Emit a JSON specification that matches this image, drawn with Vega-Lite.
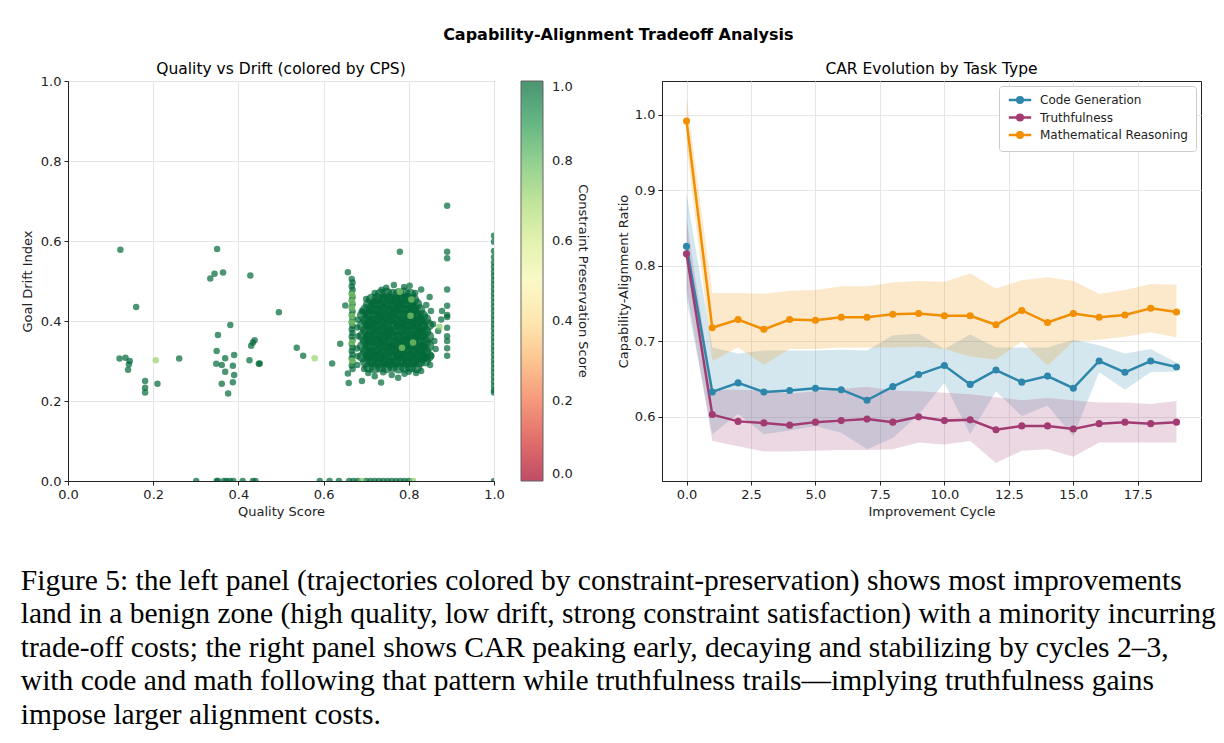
{
  "$schema": "https://vega.github.io/schema/vega-lite/v6.json",
  "background": "white",
  "padding": {"left": 20, "top": 27, "right": 5, "bottom": 5},
  "config": {
    "font": "DejaVu Sans",
    "view": {"stroke": "#222", "strokeWidth": 1},
    "axis": {"labelFont": "DejaVu Sans", "labelFontSize": 13, "titleFont": "DejaVu Sans", "titleFontSize": 13, "titleFontWeight": "normal", "labelColor": "#222", "titleColor": "#222", "domainColor": "#222", "tickColor": "#222", "tickSize": 4, "gridColor": "#e6e6e6", "labelPadding": 3, "labelFlush": false, "labelOverlap": false},
    "legend": {"labelFont": "DejaVu Sans", "titleFont": "DejaVu Sans"},
    "title": {"font": "DejaVu Sans", "color": "#000"},
    "concat": {"spacing": 26}
  },
  "datasets": {
    "pts": [
      {"q":0.123,"d":0.578,"c":1},{"q":0.350,"d":0.580,"c":1},{"q":0.334,"d":0.506,"c":1},{"q":0.344,"d":0.518,"c":1},{"q":0.364,"d":0.521,"c":1},{"q":0.428,"d":0.514,"c":1},{"q":0.160,"d":0.435,"c":1},{"q":0.495,"d":0.422,"c":1},{"q":0.381,"d":0.390,"c":1},{"q":0.352,"d":0.365,"c":1},{"q":0.438,"d":0.352,"c":1},{"q":0.434,"d":0.346,"c":1},{"q":0.430,"d":0.338,"c":1},{"q":0.121,"d":0.306,"c":1},{"q":0.135,"d":0.308,"c":1},{"q":0.145,"d":0.300,"c":1},{"q":0.143,"d":0.292,"c":1},{"q":0.141,"d":0.278,"c":1},{"q":0.261,"d":0.306,"c":1},{"q":0.181,"d":0.250,"c":1},{"q":0.181,"d":0.233,"c":1},{"q":0.181,"d":0.221,"c":1},{"q":0.210,"d":0.243,"c":1},{"q":0.349,"d":0.325,"c":1},{"q":0.348,"d":0.293,"c":1},{"q":0.361,"d":0.290,"c":1},{"q":0.369,"d":0.307,"c":1},{"q":0.390,"d":0.315,"c":1},{"q":0.387,"d":0.288,"c":1},{"q":0.369,"d":0.273,"c":1},{"q":0.390,"d":0.265,"c":1},{"q":0.361,"d":0.243,"c":1},{"q":0.387,"d":0.247,"c":1},{"q":0.376,"d":0.219,"c":1},{"q":0.426,"d":0.302,"c":1},{"q":0.448,"d":0.293,"c":1},{"q":0.450,"d":0.294,"c":1},{"q":0.537,"d":0.333,"c":1},{"q":0.552,"d":0.313,"c":1},{"q":0.620,"d":0.294,"c":1},{"q":0.639,"d":0.343,"c":1},{"q":0.651,"d":0.439,"c":1},{"q":0.657,"d":0.522,"c":1},{"q":0.659,"d":0.245,"c":1},{"q":0.657,"d":0.269,"c":1},{"q":0.779,"d":0.573,"c":1},{"q":0.890,"d":0.688,"c":1},{"q":0.690,"d":0.250,"c":1},{"q":0.735,"d":0.246,"c":1},
      {"q":0.301,"d":0,"c":1},{"q":0.349,"d":0,"c":1},{"q":0.352,"d":0,"c":1},{"q":0.366,"d":0,"c":1},{"q":0.372,"d":0,"c":1},{"q":0.380,"d":0,"c":1},{"q":0.388,"d":0,"c":1},{"q":0.410,"d":0,"c":1},{"q":0.434,"d":0,"c":1},{"q":0.440,"d":0,"c":1},{"q":0.591,"d":0,"c":1},{"q":0.614,"d":0,"c":1},{"q":0.636,"d":0,"c":1},{"q":0.660,"d":0,"c":1},{"q":0.670,"d":0,"c":1},{"q":0.680,"d":0,"c":1},{"q":0.700,"d":0,"c":1},{"q":0.710,"d":0,"c":1},{"q":0.720,"d":0,"c":1},{"q":0.730,"d":0,"c":1},{"q":0.740,"d":0,"c":1},{"q":0.750,"d":0,"c":1},{"q":0.760,"d":0,"c":1},{"q":0.770,"d":0,"c":1},{"q":0.780,"d":0,"c":1},{"q":0.790,"d":0,"c":1},{"q":0.800,"d":0,"c":1},{"q":1.0,"d":0,"c":1},
      {"q":0.890,"d":0.573,"c":1},{"q":0.890,"d":0.557,"c":1},{"q":0.890,"d":0.479,"c":1},{"q":0.890,"d":0.438,"c":1},{"q":0.890,"d":0.415,"c":1},{"q":0.890,"d":0.410,"c":1},{"q":0.890,"d":0.383,"c":1},{"q":0.890,"d":0.362,"c":1},{"q":0.890,"d":0.350,"c":1},{"q":0.890,"d":0.332,"c":1},{"q":0.890,"d":0.313,"c":1},
      {"q":0.666,"d":0.505,"c":1},{"q":0.668,"d":0.496,"c":1},{"q":0.666,"d":0.487,"c":1},{"q":0.668,"d":0.478,"c":1},{"q":0.666,"d":0.469,"c":1},{"q":0.668,"d":0.460,"c":1},{"q":0.666,"d":0.451,"c":1},{"q":0.668,"d":0.442,"c":1},{"q":0.666,"d":0.433,"c":1},{"q":0.668,"d":0.424,"c":1},{"q":0.666,"d":0.415,"c":1},{"q":0.668,"d":0.406,"c":1},{"q":0.666,"d":0.397,"c":1},{"q":0.668,"d":0.388,"c":1},{"q":0.666,"d":0.379,"c":1},{"q":0.668,"d":0.370,"c":1},{"q":0.666,"d":0.361,"c":1},{"q":0.668,"d":0.352,"c":1},{"q":0.666,"d":0.343,"c":1},{"q":0.668,"d":0.334,"c":1},{"q":0.666,"d":0.325,"c":1},{"q":0.668,"d":0.316,"c":1},{"q":0.666,"d":0.307,"c":1},{"q":0.668,"d":0.298,"c":1},{"q":0.666,"d":0.289,"c":1},{"q":0.668,"d":0.280,"c":1},
      {"q":0.679,"d":0.290,"c":1},{"q":0.680,"d":0.312,"c":1},{"q":0.678,"d":0.331,"c":1},{"q":0.681,"d":0.362,"c":1},{"q":0.679,"d":0.384,"c":1},{"q":0.680,"d":0.403,"c":1},
      {"q":1.0,"d":0.613,"c":1},{"q":1.0,"d":0.598,"c":1},{"q":1.0,"d":0.575,"c":1},{"q":1.0,"d":0.560,"c":1},{"q":1.0,"d":0.546,"c":1},{"q":1.0,"d":0.535,"c":1},{"q":1.0,"d":0.524,"c":1},{"q":1.0,"d":0.513,"c":1},{"q":1.0,"d":0.502,"c":1},{"q":1.0,"d":0.491,"c":1},{"q":1.0,"d":0.480,"c":1},{"q":1.0,"d":0.469,"c":1},{"q":1.0,"d":0.458,"c":1},{"q":1.0,"d":0.447,"c":1},{"q":1.0,"d":0.436,"c":1},{"q":1.0,"d":0.425,"c":1},{"q":1.0,"d":0.414,"c":1},{"q":1.0,"d":0.403,"c":1},{"q":1.0,"d":0.392,"c":1},{"q":1.0,"d":0.381,"c":1},{"q":1.0,"d":0.370,"c":1},{"q":1.0,"d":0.359,"c":1},{"q":1.0,"d":0.348,"c":1},{"q":1.0,"d":0.337,"c":1},{"q":1.0,"d":0.326,"c":1},{"q":1.0,"d":0.315,"c":1},{"q":1.0,"d":0.304,"c":1},{"q":1.0,"d":0.293,"c":1},{"q":1.0,"d":0.282,"c":1},{"q":1.0,"d":0.271,"c":1},{"q":1.0,"d":0.260,"c":1},{"q":1.0,"d":0.249,"c":1},{"q":1.0,"d":0.238,"c":1},{"q":1.0,"d":0.227,"c":1},{"q":1.0,"d":0.221,"c":1},
      {"q":0.747,"d":0.483,"c":1},{"q":0.789,"d":0.485,"c":1},{"q":0.829,"d":0.479,"c":1},{"q":0.849,"d":0.460,"c":1},{"q":0.841,"d":0.440,"c":1},{"q":0.878,"d":0.425,"c":1},{"q":0.876,"d":0.404,"c":1},{"q":0.869,"d":0.375,"c":1},{"q":0.853,"d":0.313,"c":1},{"q":0.841,"d":0.310,"c":1},{"q":0.829,"d":0.275,"c":1},{"q":0.817,"d":0.270,"c":1},{"q":0.800,"d":0.273,"c":1},{"q":0.720,"d":0.262,"c":1},{"q":0.705,"d":0.270,"c":1},{"q":0.760,"d":0.265,"c":1},{"q":0.775,"d":0.258,"c":1},{"q":0.860,"d":0.350,"c":1},{"q":0.863,"d":0.330,"c":1},{"q":0.720,"d":0.470,"c":1},{"q":0.736,"d":0.478,"c":1},{"q":0.765,"d":0.490,"c":1},{"q":0.802,"d":0.488,"c":1},{"q":0.815,"d":0.470,"c":1},{"q":0.857,"d":0.392,"c":1},{"q":0.852,"d":0.425,"c":1},{"q":0.695,"d":0.280,"c":1},{"q":0.740,"d":0.272,"c":1},{"q":0.790,"d":0.268,"c":1},{"q":0.850,"d":0.290,"c":1},{"q":0.700,"d":0.455,"c":1},{"q":0.690,"d":0.425,"c":1},
      {"q":0.206,"d":0.302,"c":0.72},{"q":0.579,"d":0.307,"c":0.72},{"q":0.690,"d":0,"c":0.75},{"q":0.810,"d":0,"c":0.75},
      {"q":0.667,"d":0.467,"c":0.75},{"q":0.667,"d":0.450,"c":0.75},{"q":0.667,"d":0.433,"c":0.75},{"q":0.667,"d":0.413,"c":0.75},{"q":0.667,"d":0.396,"c":0.75},{"q":0.667,"d":0.346,"c":0.75},{"q":0.667,"d":0.300,"c":0.75},
      {"q":0.779,"d":0.473,"c":0.75},{"q":0.806,"d":0.454,"c":0.75},{"q":0.804,"d":0.413,"c":0.75},{"q":0.810,"d":0.346,"c":0.75},{"q":0.784,"d":0.333,"c":0.75},{"q":0.872,"d":0.385,"c":0.75}
    ],
    "blob": [
      {"q":0.706,"d":0.285,"c":1},{"q":0.720,"d":0.283,"c":1},{"q":0.734,"d":0.286,"c":1},{"q":0.748,"d":0.284,"c":1},{"q":0.762,"d":0.287,"c":1},{"q":0.776,"d":0.283,"c":1},{"q":0.790,"d":0.285,"c":1},{"q":0.804,"d":0.286,"c":1},{"q":0.818,"d":0.284,"c":1},
      {"q":0.699,"d":0.298,"c":1},{"q":0.713,"d":0.300,"c":1},{"q":0.727,"d":0.297,"c":1},{"q":0.741,"d":0.299,"c":1},{"q":0.755,"d":0.296,"c":1},{"q":0.769,"d":0.298,"c":1},{"q":0.783,"d":0.300,"c":1},{"q":0.797,"d":0.297,"c":1},{"q":0.811,"d":0.299,"c":1},{"q":0.825,"d":0.298,"c":1},{"q":0.839,"d":0.301,"c":1},
      {"q":0.692,"d":0.311,"c":1},{"q":0.706,"d":0.313,"c":1},{"q":0.720,"d":0.310,"c":1},{"q":0.734,"d":0.312,"c":1},{"q":0.748,"d":0.309,"c":1},{"q":0.762,"d":0.311,"c":1},{"q":0.776,"d":0.313,"c":1},{"q":0.790,"d":0.310,"c":1},{"q":0.804,"d":0.312,"c":1},{"q":0.818,"d":0.311,"c":1},{"q":0.832,"d":0.309,"c":1},{"q":0.846,"d":0.312,"c":1},
      {"q":0.699,"d":0.324,"c":1},{"q":0.713,"d":0.322,"c":1},{"q":0.727,"d":0.325,"c":1},{"q":0.741,"d":0.323,"c":1},{"q":0.755,"d":0.326,"c":1},{"q":0.769,"d":0.324,"c":1},{"q":0.783,"d":0.322,"c":1},{"q":0.797,"d":0.325,"c":1},{"q":0.811,"d":0.323,"c":1},{"q":0.825,"d":0.326,"c":1},{"q":0.839,"d":0.324,"c":1},
      {"q":0.692,"d":0.337,"c":1},{"q":0.706,"d":0.339,"c":1},{"q":0.720,"d":0.336,"c":1},{"q":0.734,"d":0.338,"c":1},{"q":0.748,"d":0.337,"c":1},{"q":0.762,"d":0.335,"c":1},{"q":0.776,"d":0.338,"c":1},{"q":0.790,"d":0.336,"c":1},{"q":0.804,"d":0.339,"c":1},{"q":0.818,"d":0.337,"c":1},{"q":0.832,"d":0.335,"c":1},{"q":0.846,"d":0.338,"c":1},
      {"q":0.699,"d":0.350,"c":1},{"q":0.713,"d":0.352,"c":1},{"q":0.727,"d":0.349,"c":1},{"q":0.741,"d":0.351,"c":1},{"q":0.755,"d":0.350,"c":1},{"q":0.769,"d":0.348,"c":1},{"q":0.783,"d":0.351,"c":1},{"q":0.797,"d":0.349,"c":1},{"q":0.811,"d":0.352,"c":1},{"q":0.825,"d":0.350,"c":1},{"q":0.839,"d":0.348,"c":1},
      {"q":0.692,"d":0.363,"c":1},{"q":0.706,"d":0.361,"c":1},{"q":0.720,"d":0.364,"c":1},{"q":0.734,"d":0.362,"c":1},{"q":0.748,"d":0.365,"c":1},{"q":0.762,"d":0.363,"c":1},{"q":0.776,"d":0.361,"c":1},{"q":0.790,"d":0.364,"c":1},{"q":0.804,"d":0.362,"c":1},{"q":0.818,"d":0.363,"c":1},{"q":0.832,"d":0.365,"c":1},{"q":0.846,"d":0.361,"c":1},
      {"q":0.699,"d":0.376,"c":1},{"q":0.713,"d":0.378,"c":1},{"q":0.727,"d":0.375,"c":1},{"q":0.741,"d":0.377,"c":1},{"q":0.755,"d":0.374,"c":1},{"q":0.769,"d":0.376,"c":1},{"q":0.783,"d":0.378,"c":1},{"q":0.797,"d":0.375,"c":1},{"q":0.811,"d":0.377,"c":1},{"q":0.825,"d":0.376,"c":1},{"q":0.839,"d":0.374,"c":1},
      {"q":0.692,"d":0.389,"c":1},{"q":0.706,"d":0.391,"c":1},{"q":0.720,"d":0.388,"c":1},{"q":0.734,"d":0.390,"c":1},{"q":0.748,"d":0.387,"c":1},{"q":0.762,"d":0.389,"c":1},{"q":0.776,"d":0.391,"c":1},{"q":0.790,"d":0.388,"c":1},{"q":0.804,"d":0.390,"c":1},{"q":0.818,"d":0.389,"c":1},{"q":0.832,"d":0.387,"c":1},{"q":0.846,"d":0.390,"c":1},
      {"q":0.699,"d":0.402,"c":1},{"q":0.713,"d":0.400,"c":1},{"q":0.727,"d":0.403,"c":1},{"q":0.741,"d":0.401,"c":1},{"q":0.755,"d":0.404,"c":1},{"q":0.769,"d":0.402,"c":1},{"q":0.783,"d":0.400,"c":1},{"q":0.797,"d":0.403,"c":1},{"q":0.811,"d":0.401,"c":1},{"q":0.825,"d":0.402,"c":1},{"q":0.839,"d":0.404,"c":1},
      {"q":0.692,"d":0.415,"c":1},{"q":0.706,"d":0.417,"c":1},{"q":0.720,"d":0.414,"c":1},{"q":0.734,"d":0.416,"c":1},{"q":0.748,"d":0.413,"c":1},{"q":0.762,"d":0.415,"c":1},{"q":0.776,"d":0.417,"c":1},{"q":0.790,"d":0.414,"c":1},{"q":0.804,"d":0.416,"c":1},{"q":0.818,"d":0.415,"c":1},{"q":0.832,"d":0.413,"c":1},
      {"q":0.699,"d":0.428,"c":1},{"q":0.713,"d":0.430,"c":1},{"q":0.727,"d":0.427,"c":1},{"q":0.741,"d":0.429,"c":1},{"q":0.755,"d":0.426,"c":1},{"q":0.769,"d":0.428,"c":1},{"q":0.783,"d":0.430,"c":1},{"q":0.797,"d":0.427,"c":1},{"q":0.811,"d":0.429,"c":1},{"q":0.825,"d":0.428,"c":1},
      {"q":0.706,"d":0.441,"c":1},{"q":0.720,"d":0.443,"c":1},{"q":0.734,"d":0.440,"c":1},{"q":0.748,"d":0.442,"c":1},{"q":0.762,"d":0.439,"c":1},{"q":0.776,"d":0.441,"c":1},{"q":0.790,"d":0.443,"c":1},{"q":0.804,"d":0.440,"c":1},{"q":0.818,"d":0.442,"c":1},
      {"q":0.713,"d":0.454,"c":1},{"q":0.727,"d":0.456,"c":1},{"q":0.741,"d":0.453,"c":1},{"q":0.755,"d":0.455,"c":1},{"q":0.769,"d":0.452,"c":1},{"q":0.783,"d":0.454,"c":1},{"q":0.797,"d":0.456,"c":1},{"q":0.811,"d":0.453,"c":1},
      {"q":0.734,"d":0.467,"c":1},{"q":0.748,"d":0.469,"c":1},{"q":0.762,"d":0.466,"c":1},{"q":0.776,"d":0.468,"c":1},{"q":0.790,"d":0.470,"c":1},{"q":0.804,"d":0.466,"c":1}
    ],
    "car": [
      {"cycle":0,"task":"Code Generation","car":0.826,"lo":0.756,"hi":0.896},{"cycle":1,"task":"Code Generation","car":0.633,"lo":0.577,"hi":0.692},{"cycle":2,"task":"Code Generation","car":0.645,"lo":0.604,"hi":0.684},{"cycle":3,"task":"Code Generation","car":0.633,"lo":0.577,"hi":0.688},{"cycle":4,"task":"Code Generation","car":0.635,"lo":0.582,"hi":0.688},{"cycle":5,"task":"Code Generation","car":0.638,"lo":0.588,"hi":0.688},{"cycle":6,"task":"Code Generation","car":0.636,"lo":0.579,"hi":0.689},{"cycle":7,"task":"Code Generation","car":0.622,"lo":0.557,"hi":0.688},{"cycle":8,"task":"Code Generation","car":0.640,"lo":0.572,"hi":0.708},{"cycle":9,"task":"Code Generation","car":0.656,"lo":0.603,"hi":0.710},{"cycle":10,"task":"Code Generation","car":0.668,"lo":0.645,"hi":0.690},{"cycle":11,"task":"Code Generation","car":0.643,"lo":0.577,"hi":0.709},{"cycle":12,"task":"Code Generation","car":0.662,"lo":0.634,"hi":0.692},{"cycle":13,"task":"Code Generation","car":0.646,"lo":0.601,"hi":0.692},{"cycle":14,"task":"Code Generation","car":0.654,"lo":0.615,"hi":0.692},{"cycle":15,"task":"Code Generation","car":0.638,"lo":0.574,"hi":0.702},{"cycle":16,"task":"Code Generation","car":0.674,"lo":0.659,"hi":0.695},{"cycle":17,"task":"Code Generation","car":0.659,"lo":0.636,"hi":0.684},{"cycle":18,"task":"Code Generation","car":0.674,"lo":0.659,"hi":0.690},{"cycle":19,"task":"Code Generation","car":0.666,"lo":0.660,"hi":0.672},
      {"cycle":0,"task":"Truthfulness","car":0.816,"lo":0.770,"hi":0.862},{"cycle":1,"task":"Truthfulness","car":0.603,"lo":0.568,"hi":0.636},{"cycle":2,"task":"Truthfulness","car":0.594,"lo":0.561,"hi":0.636},{"cycle":3,"task":"Truthfulness","car":0.592,"lo":0.554,"hi":0.635},{"cycle":4,"task":"Truthfulness","car":0.589,"lo":0.554,"hi":0.631},{"cycle":5,"task":"Truthfulness","car":0.593,"lo":0.555,"hi":0.634},{"cycle":6,"task":"Truthfulness","car":0.595,"lo":0.556,"hi":0.637},{"cycle":7,"task":"Truthfulness","car":0.597,"lo":0.556,"hi":0.640},{"cycle":8,"task":"Truthfulness","car":0.593,"lo":0.557,"hi":0.635},{"cycle":9,"task":"Truthfulness","car":0.600,"lo":0.566,"hi":0.634},{"cycle":10,"task":"Truthfulness","car":0.595,"lo":0.5635,"hi":0.632},{"cycle":11,"task":"Truthfulness","car":0.596,"lo":0.568,"hi":0.630},{"cycle":12,"task":"Truthfulness","car":0.583,"lo":0.539,"hi":0.626},{"cycle":13,"task":"Truthfulness","car":0.588,"lo":0.555,"hi":0.622},{"cycle":14,"task":"Truthfulness","car":0.588,"lo":0.557,"hi":0.625},{"cycle":15,"task":"Truthfulness","car":0.584,"lo":0.547,"hi":0.622},{"cycle":16,"task":"Truthfulness","car":0.591,"lo":0.566,"hi":0.619},{"cycle":17,"task":"Truthfulness","car":0.593,"lo":0.566,"hi":0.619},{"cycle":18,"task":"Truthfulness","car":0.591,"lo":0.566,"hi":0.617},{"cycle":19,"task":"Truthfulness","car":0.593,"lo":0.566,"hi":0.621},
      {"cycle":0,"task":"Mathematical Reasoning","car":0.992,"lo":0.960,"hi":1.024},{"cycle":1,"task":"Mathematical Reasoning","car":0.718,"lo":0.674,"hi":0.764},{"cycle":2,"task":"Mathematical Reasoning","car":0.729,"lo":0.692,"hi":0.764},{"cycle":3,"task":"Mathematical Reasoning","car":0.716,"lo":0.669,"hi":0.763},{"cycle":4,"task":"Mathematical Reasoning","car":0.729,"lo":0.690,"hi":0.767},{"cycle":5,"task":"Mathematical Reasoning","car":0.728,"lo":0.690,"hi":0.768},{"cycle":6,"task":"Mathematical Reasoning","car":0.732,"lo":0.692,"hi":0.773},{"cycle":7,"task":"Mathematical Reasoning","car":0.732,"lo":0.692,"hi":0.773},{"cycle":8,"task":"Mathematical Reasoning","car":0.736,"lo":0.692,"hi":0.778},{"cycle":9,"task":"Mathematical Reasoning","car":0.737,"lo":0.693,"hi":0.780},{"cycle":10,"task":"Mathematical Reasoning","car":0.734,"lo":0.690,"hi":0.779},{"cycle":11,"task":"Mathematical Reasoning","car":0.734,"lo":0.680,"hi":0.790},{"cycle":12,"task":"Mathematical Reasoning","car":0.722,"lo":0.676,"hi":0.770},{"cycle":13,"task":"Mathematical Reasoning","car":0.741,"lo":0.700,"hi":0.781},{"cycle":14,"task":"Mathematical Reasoning","car":0.725,"lo":0.668,"hi":0.785},{"cycle":15,"task":"Mathematical Reasoning","car":0.737,"lo":0.700,"hi":0.780},{"cycle":16,"task":"Mathematical Reasoning","car":0.732,"lo":0.702,"hi":0.763},{"cycle":17,"task":"Mathematical Reasoning","car":0.735,"lo":0.706,"hi":0.768},{"cycle":18,"task":"Mathematical Reasoning","car":0.744,"lo":0.712,"hi":0.776},{"cycle":19,"task":"Mathematical Reasoning","car":0.739,"lo":0.705,"hi":0.775}
    ]
  },
  "title": {"text": "Capability-Alignment Tradeoff Analysis", "fontSize": 16, "fontWeight": "bold", "anchor": "middle", "offset": 18},
  "vconcat": [
    {
      "title": {
        "text": [
          "Figure 5: the left panel (trajectories colored by constraint-preservation) shows most improvements",
          "land in a benign zone (high quality, low drift, strong constraint satisfaction) with a minority incurring",
          "trade-off costs; the right panel shows CAR peaking early, decaying and stabilizing by cycles 2–3,",
          "with code and math following that pattern while truthfulness trails—implying truthfulness gains",
          "impose larger alignment costs."
        ],
        "orient": "bottom", "anchor": "start", "font": "Liberation Serif", "fontSize": 29.5, "fontWeight": "normal", "lineHeight": 33.5, "offset": 48, "color": "#000"
      },
      "resolve": {"scale": {"color": "independent"}},
      "hconcat": [
        {
          "width": 426, "height": 400,
          "title": {"text": "Quality vs Drift (colored by CPS)", "fontSize": 15.5, "fontWeight": "normal", "frame": "group", "offset": -2},
          "layer": [
            {"mark": {"type": "rule", "color": "#999", "strokeDash": [6, 4], "strokeWidth": 1.5, "opacity": 0.7}, "encoding": {"x": {"datum": 0.5, "type": "quantitative"}}},
            {"mark": {"type": "rule", "color": "#999", "strokeDash": [6, 4], "strokeWidth": 1.5, "opacity": 0.7}, "encoding": {"y": {"datum": 0.5, "type": "quantitative"}}},
            {
              "data": {"name": "blob"},
              "mark": {"type": "circle", "size": 135, "opacity": 0.7, "clip": true},
              "encoding": {
                "x": {"field": "q", "type": "quantitative", "scale": {"domain": [0, 1], "nice": false}, "axis": {"title": "Quality Score", "values": [0, 0.2, 0.4, 0.6, 0.8, 1], "format": ".1f", "grid": true}},
                "y": {"field": "d", "type": "quantitative", "scale": {"domain": [0, 1], "nice": false}, "axis": {"title": "Goal Drift Index", "titlePadding": 6, "values": [0, 0.2, 0.4, 0.6, 0.8, 1], "format": ".1f", "grid": true}},
                "color": {"field": "c", "type": "quantitative", "scale": {"scheme": "redyellowgreen", "domain": [0, 1]},
                  "legend": {"title": "Constraint Preservation Score", "titleOrient": "right", "titleLimit": 500, "titlePadding": 3, "direction": "vertical", "gradientLength": 400, "gradientThickness": 22, "offset": 27, "values": [0, 0.2, 0.4, 0.6, 0.8, 1], "format": ".1f", "labelFontSize": 13, "labelOffset": 9, "titleFontSize": 13, "titleFontWeight": "normal", "gradientStrokeColor": "#222", "gradientStrokeWidth": 1, "labelColor": "#222", "titleColor": "#222"}}
              }
            },
            {
              "data": {"name": "pts"},
              "mark": {"type": "circle", "size": 42, "opacity": 0.7, "clip": true},
              "encoding": {
                "x": {"field": "q", "type": "quantitative", "scale": {"domain": [0, 1], "nice": false}, "axis": {"title": "Quality Score", "values": [0, 0.2, 0.4, 0.6, 0.8, 1], "format": ".1f", "grid": true}},
                "y": {"field": "d", "type": "quantitative", "scale": {"domain": [0, 1], "nice": false}, "axis": {"title": "Goal Drift Index", "titlePadding": 6, "values": [0, 0.2, 0.4, 0.6, 0.8, 1], "format": ".1f", "grid": true}},
                "color": {"field": "c", "type": "quantitative", "scale": {"scheme": "redyellowgreen", "domain": [0, 1]},
                  "legend": {"title": "Constraint Preservation Score", "titleOrient": "right", "titleLimit": 500, "titlePadding": 3, "direction": "vertical", "gradientLength": 400, "gradientThickness": 22, "offset": 27, "values": [0, 0.2, 0.4, 0.6, 0.8, 1], "format": ".1f", "labelFontSize": 13, "labelOffset": 9, "titleFontSize": 13, "titleFontWeight": "normal", "gradientStrokeColor": "#222", "gradientStrokeWidth": 1, "labelColor": "#222", "titleColor": "#222"}}
              }
            },
            {"mark": {"type": "text", "text": "POOR", "color": "#ff0000", "fontWeight": "bold", "fontSize": 12.5}, "encoding": {"x": {"datum": 0.25, "type": "quantitative"}, "y": {"datum": 0.75, "type": "quantitative"}}},
            {"mark": {"type": "text", "text": "TRADE-OFF", "color": "#ffa500", "fontWeight": "bold", "fontSize": 12.5}, "encoding": {"x": {"datum": 0.75, "type": "quantitative"}, "y": {"datum": 0.75, "type": "quantitative"}}},
            {"mark": {"type": "text", "text": "SUBOPTIMAL", "color": "#808080", "fontWeight": "bold", "fontSize": 12.5}, "encoding": {"x": {"datum": 0.25, "type": "quantitative"}, "y": {"datum": 0.25, "type": "quantitative"}}},
            {"mark": {"type": "text", "text": "IDEAL", "color": "#008000", "fontWeight": "bold", "fontSize": 12.5}, "encoding": {"x": {"datum": 0.75, "type": "quantitative"}, "y": {"datum": 0.25, "type": "quantitative"}}}
          ]
        },
        {
          "name": "car",
          "width": 539, "height": 400,
          "title": {"text": "CAR Evolution by Task Type", "fontSize": 15.5, "fontWeight": "normal", "frame": "group", "offset": 4},
          "data": {"name": "car"},
          "encoding": {
            "x": {"field": "cycle", "type": "quantitative", "scale": {"domain": [-0.95, 19.95], "nice": false, "zero": false}, "axis": {"title": "Improvement Cycle", "values": [0, 2.5, 5, 7.5, 10, 12.5, 15, 17.5], "format": ".1f", "grid": true}},
            "color": {"field": "task", "type": "nominal", "scale": {"domain": ["Code Generation", "Truthfulness", "Mathematical Reasoning"], "range": ["#2E86AB", "#A23B72", "#F18F01"]},
              "legend": {"title": null, "orient": "top-right", "offset": 5, "fillColor": "white", "strokeColor": "#cccccc", "padding": 8, "cornerRadius": 3, "labelFontSize": 12, "labelColor": "#222", "symbolSize": 64, "symbolType": "M-2.8,0L2.8,0M-0.7,0A0.7,0.7,0,1,1,0.7,0A0.7,0.7,0,1,1,-0.7,0Z", "symbolStrokeWidth": 2.5, "symbolOpacity": 1, "symbolOffset": 7, "labelOffset": 14, "rowPadding": 1.5, "labelLimit": 300}}
          },
          "layer": [
            {"mark": {"type": "area", "opacity": 0.2}, "encoding": {"y": {"field": "lo", "type": "quantitative", "scale": {"domain": [0.515, 1.045], "nice": false, "zero": false}, "axis": {"title": "Capability-Alignment Ratio", "values": [0.6, 0.7, 0.8, 0.9, 1.0], "format": ".1f", "grid": true}}, "y2": {"field": "hi"}}},
            {"mark": {"type": "line", "strokeWidth": 2.5}, "encoding": {"y": {"field": "car", "type": "quantitative", "axis": {"title": "Capability-Alignment Ratio"}}}},
            {"mark": {"type": "circle", "size": 50, "opacity": 1}, "encoding": {"y": {"field": "car", "type": "quantitative", "axis": {"title": "Capability-Alignment Ratio"}}}}
          ]
        }
      ]
    }
  ]
}
